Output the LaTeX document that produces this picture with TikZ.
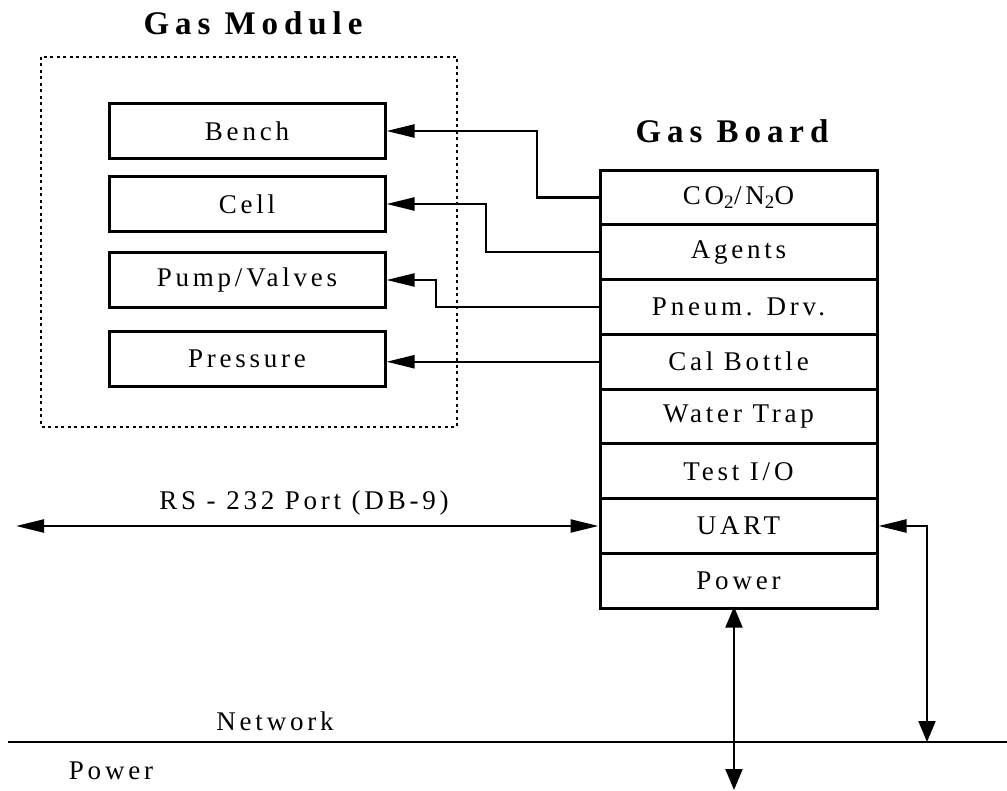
\documentclass[tikz,border=0pt]{standalone}
\usepackage{fontspec}
\setmainfont{Liberation Serif}[LetterSpace=14]
\newfontfamily\titlefont{Liberation Serif}[LetterSpace=18]
\usetikzlibrary{arrows.meta,positioning}
\tikzset{
  htip/.tip={Triangle[length=28pt,width=13pt]},
  vtip/.tip={Triangle[length=21pt,width=17pt]},
  modbox/.style={draw, line width=3pt, minimum width=276pt, minimum height=55pt, inner sep=0pt},
  rowbox/.style={draw, line width=3pt, minimum width=277pt, minimum height=54.75pt, inner sep=0pt, outer sep=0pt},
  conn/.style={line width=2.2pt},
  title/.style={font=\fontsize{33}{36}\selectfont\titlefont\bfseries}
}

\begin{document}
\begin{tikzpicture}[x=1pt, y=-1pt, font=\fontsize{27}{30}\selectfont, line join=miter]
  \useasboundingbox (0,0) rectangle (1007,791);

  % gas module
  \node[title] (gmtitle) at (253,23) {Gas Module};
  \draw[line width=1.8pt, dash pattern=on 3pt off 3.5pt] (41,57) rectangle (457,427);
  \node[modbox] (bench)    at (247,131) {Bench};
  \node[modbox] (cell)     at (247,204) {Cell};
  \node[modbox] (pump)     at (247,280) {Pump/Valves};
  \node[modbox] (pressure) at (247,359) {Pressure};

  % gas board stack
  \node[title] (gbtitle) at (732,131) {Gas Board};
  \node[rowbox] (co2) at (738.5,197.5) {CO\textsubscript{2}/N\textsubscript{2}O};
  \foreach \n/\t [remember=\n as \p (initially co2)] in
    {agents/Agents, pneum/{Pneum. Drv.}, calb/{Cal Bottle}, trap/{Water Trap},
     testio/{Test I/O}, uart/UART, power/Power}
    \node[rowbox, below=0pt of \p] (\n) {\t};

  % board to module links
  \draw[conn, -{htip}] (co2.west) -- ++(-63,0) |- (bench.east);
  \draw[conn, -{htip}] (agents.west) -- ++(-114,0) |- (cell.east);
  \draw[conn, -{htip}] (pneum.west) -- ++(-164,0) |- (pump.east);
  \draw[conn, -{htip}] (calb.west) -- (calb.west -| pressure.east);

  % serial port
  \coordinate (rsend) at (16,0);
  \draw[conn, {htip}-{htip}] (rsend |- uart.west) -- ([xshift=-1.5pt]uart.west);
  \node (rslabel) at (304,503) {RS - 232 Port (DB-9)};

  % network and power bus
  \coordinate (netL) at (8,742);
  \coordinate (netR) at (1007,742);
  \draw[line width=2.6pt] (netL) -- (netR);
  \node (netlabel) at (275,721) {Network};
  \node (pwrlabel) at (111,771) {Power};

  \coordinate (uartnet) at (927,742);
  \draw[conn, {htip}-{vtip}] ([xshift=1.5pt]uart.east) -| (uartnet);
  \coordinate (pwrend) at (734,790);
  \draw[conn, {vtip}-{vtip}] ([yshift=1.5pt]pwrend |- power.south) -- (pwrend);
\end{tikzpicture}
\end{document}
